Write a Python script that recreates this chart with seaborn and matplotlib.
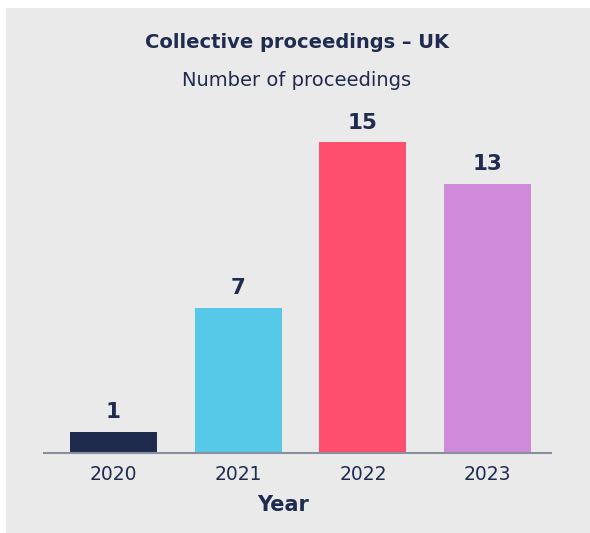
import matplotlib
matplotlib.use("Agg")
import matplotlib.pyplot as plt
import seaborn as sns
import pandas as pd
from matplotlib.patches import Rectangle

years = ["2020", "2021", "2022", "2023"]
counts = [1, 7, 15, 13]
colors = ["#1e2b4d", "#56c9e8", "#ff4f6e", "#cf8bd9"]

title = "Collective proceedings – UK"
subtitle = "Number of proceedings"
xlabel = "Year"

navy = "#1f2c4f"
sns.set_theme(style="white")
plt.rcParams["font.family"] = ["DejaVu Sans"]

W, H = 590, 533
fig = plt.figure(figsize=(W / 100, H / 100), dpi=100, facecolor="white")
fig.patches.append(Rectangle((6 / W, 0), 1 - 6 / W, 1 - 8 / H, transform=fig.transFigure,
                             facecolor="#eaeaea", edgecolor="none", zorder=-10))

ax = fig.add_axes([44 / W, 80.3 / H, 507 / W, 331 / H])
ax.set_facecolor("none")
ax.set_zorder(5)
df = pd.DataFrame({"year": years, "count": counts})
sns.barplot(data=df, x="year", y="count", hue="year", palette=colors, legend=False,
            width=0.697, saturation=1, linewidth=0, ax=ax)
ax.set_ylim(0, 16)
ax.set_xlim(-0.555, 3.507)
for c in ax.containers:
    ax.bar_label(c, padding=7, fontsize=15.5, fontweight="bold", color=navy)

for s in ["top", "right", "left"]:
    ax.spines[s].set_visible(False)
ax.spines["bottom"].set_color("#8a8fa0")
ax.spines["bottom"].set_linewidth(1.5)
ax.set_yticks([])
ax.set_ylabel("")
ax.tick_params(axis="x", length=0, pad=9, labelsize=13.5, labelcolor=navy)
ax.set_xlabel(xlabel, fontsize=15, fontweight="bold", color=navy)
ax.xaxis.set_label_coords((283 - 44) / 507, -(505 - 452.7) / 331)
ax.xaxis.label.set_verticalalignment("center")

fig.text(297 / W, 1 - 42 / H, title, ha="center", va="center", fontsize=14,
         fontweight="bold", color=navy)
fig.text(297 / W, 1 - 80 / H, subtitle, ha="center", va="center", fontsize=14,
         color=navy)

fig.savefig("out.png", dpi=100, facecolor="white")
